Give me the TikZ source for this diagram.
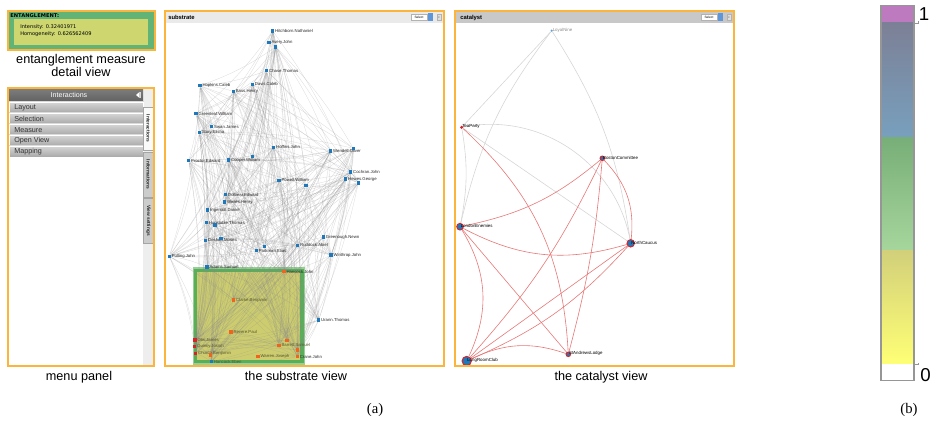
\documentclass[tikz,border=0pt]{standalone}
\usepackage{fontspec}
\setmainfont{Liberation Sans}
\newfontfamily\capserif{Liberation Serif}
\newfontfamily\dvsans{DejaVu Sans}
\definecolor{frameorange}{RGB}{251,181,60}
\definecolor{nodeblue}{RGB}{30,120,185}
\definecolor{nodeorange}{RGB}{240,100,30}
\definecolor{nodered}{RGB}{215,35,40}
\definecolor{catred}{RGB}{232,118,118}
\definecolor{catgrey}{RGB}{214,214,214}
\definecolor{entgreen}{RGB}{98,180,118}
\definecolor{entyellow}{RGB}{206,214,112}
\definecolor{selfill}{RGB}{205,205,112}
\definecolor{selgreen}{RGB}{88,175,88}
\definecolor{selhalo}{RGB}{150,208,150}
\definecolor{inlbl}{RGB}{85,85,45}
\definecolor{sidegrey}{RGB}{238,238,238}
\definecolor{headtop}{RGB}{125,125,125}
\definecolor{headbot}{RGB}{98,98,98}
\definecolor{itemtop}{RGB}{214,214,214}
\definecolor{itembot}{RGB}{168,168,168}
\definecolor{tabdraw}{RGB}{165,165,165}
\definecolor{tabon}{RGB}{250,250,250}
\definecolor{taboff}{RGB}{204,204,204}
\definecolor{subbar}{RGB}{234,234,234}
\definecolor{catbar}{RGB}{200,200,200}
\definecolor{selblue}{RGB}{95,150,215}
\definecolor{barmag}{RGB}{190,122,190}
\definecolor{barb1}{RGB}{124,128,150}
\definecolor{barb2}{RGB}{120,160,190}
\definecolor{barg1}{RGB}{120,174,120}
\definecolor{barg2}{RGB}{166,214,156}
\definecolor{bary1}{RGB}{210,208,122}
\definecolor{bary2}{RGB}{255,255,118}
\definecolor{bargrey}{RGB}{150,150,150}
\pgfdeclarelayer{selbox}
\pgfdeclarelayer{edgelayer}
\pgfsetlayers{selbox,edgelayer,main}
\begin{document}
\begin{tikzpicture}[x=0.75pt,y=-0.75pt,
  frame/.style={draw=frameorange,line width=1.1pt},
  sn/.style={rectangle,inner sep=0,minimum size=2.4pt,fill=nodeblue},
  so/.style={sn,fill=nodeorange},
  sr/.style={sn,fill=nodered},
  sl/.style={font=\fontsize{3.2}{3.6}\selectfont,inner sep=0.3pt,text=black!85},
  slin/.style={sl,text=inlbl},
  sedge/.style={draw=black!45,draw opacity=0.3,line width=0.25pt},
  cn/.style={circle,inner sep=0,fill=nodeblue,draw=nodered,line width=0.7pt},
  cl/.style={font=\fontsize{3.3}{3.8}\selectfont,inner sep=0,anchor=west},
  credge/.style={draw=catred,line width=0.45pt},
  cgedge/.style={draw=catgrey,line width=0.45pt},
  caption/.style={font=\fontsize{9.5}{11}\selectfont,anchor=base,inner sep=0},
  menuitem/.style={top color=itemtop,bottom color=itembot,draw=white,line width=0.3pt},
  mtext/.style={font=\fontsize{5.4}{6}\selectfont,text=black!80,anchor=west,inner sep=0},
  tabtext/.style={font=\bfseries\fontsize{3.6}{4}\selectfont,rotate=-90,inner sep=0,text=black!85},
  tiny/.style={font=\fontsize{2.4}{2.8}\selectfont,inner sep=0}
]
\useasboundingbox (0,0) rectangle (930,423);

% ---------------- entanglement measure detail view
\draw[frame,fill=entgreen] (8,11) rectangle (155,50);
\fill[entyellow] (14,19) rectangle (148,45.5);
\node[font=\dvsans\bfseries\fontsize{3.9}{4.4}\selectfont,anchor=base west,inner sep=0] (enttitle) at (10,18) {ENTANGLEMENT:};
\node[font=\dvsans\fontsize{3.8}{4.4}\selectfont,anchor=base west,inner sep=0] (entint) at (20,28.5) {Intensity: 0.32401971};
\node[font=\dvsans\fontsize{3.8}{4.4}\selectfont,anchor=base west,inner sep=0] (enthom) at (20,36) {Homogeneity: 0.626562409};
\node[caption] (cap1a) at (81,63.5) {entanglement measure};
\node[caption] (cap1b) at (81,76.5) {detail view};

% ---------------- menu panel
\fill[white] (8,88) rectangle (154,366);
\fill[sidegrey] (143,88) rectangle (154,366);
\shade[top color=headtop,bottom color=headbot] (9,88.5) rectangle (143,101.5);
\node[font=\fontsize{5.3}{6}\selectfont,text=white,inner sep=0] (mhead) at (69,95) {Interactions};
\fill[white] (139.5,92) -- (136,95) -- (139.5,98) -- cycle;
\fill[white!85!black] (140.3,92) rectangle (141,98);
\foreach \k/\t in {0/Layout,1/Selection,2/Measure,3/Open View,4/Mapping}{
  \shade[menuitem] (9,102+11*\k) rectangle (143,113+11*\k);
  \node[mtext] (mi\k) at (14,107.7+11*\k) {\t};
}
\draw[tabdraw,fill=tabon,line width=0.4pt] (143.3,107) rectangle (153.3,150);
\draw[tabdraw,fill=taboff,line width=0.4pt] (143.3,152) rectangle (153.3,197);
\draw[tabdraw,fill=taboff,line width=0.4pt] (143.3,198) rectangle (153.3,243);
\node[tabtext] (tab1) at (148.3,128.5) {Interactions};
\node[tabtext] (tab2) at (148.3,174.5) {Informations};
\node[tabtext] (tab3) at (148.3,220.5) {View settings};
\draw[frame] (8,88) rectangle (154,366);
\node[caption] (cap2) at (79,380) {menu panel};

% ---------------- substrate view
\fill[subbar] (165,11) rectangle (444,23);
\node[font=\bfseries\fontsize{4.4}{5}\selectfont,anchor=west,inner sep=0] (subtitle) at (168,17.5) {substrate};
\draw[black!30,fill=white,line width=0.2pt] (411,14.5) rectangle (427,20);
\node[tiny] (subsel) at (419,17.3) {Select};
\fill[selblue] (428,13.5) rectangle (433,21);
\draw[black!30,fill=black!12,line width=0.2pt] (437,14.5) rectangle (441,20);
\node[tiny,text=black!60] (subx) at (439,17.2) {x};

\node[sn,label={[sl]east:Hitchborn.Nathaniel}] (s1) at (272.7,31) {};
\node[sn,label={[sl]east:Avery.John}] (s2) at (269,42.7) {};
\node[sn] (s3) at (275.7,47) {};
\node[sn,label={[sl]east:Chase.Thomas}] (s4) at (266.7,70.7) {};
\node[sn,label={[sl]east:Hopkins.Caleb}] (s5) at (200,85.7) {};
\node[sn,label={[sl]east:Davis.Caleb}] (s6) at (252.3,84.3) {};
\node[sn,label={[sl]east:Bass.Henry}] (s7) at (233.3,91.3) {};
\node[sn,label={[sl]east:Greenleaf.William}] (s8) at (196,113.7) {};
\node[sn,label={[sl]east:Swan.James}] (s9) at (211.7,126.7) {};
\node[sn,label={[sl]east:Story.Elisha}] (s10) at (199.3,132.7) {};
\node[sn,label={[sl]east:Hoffins.John}] (s11) at (273.7,147.3) {};
\node[sn,label={[sl]east:Wendell.Oliver}] (s12) at (330.7,151) {};
\node[sn] (s13) at (353.3,148.3) {};
\node[sn,label={[sl]east:Proctor.Edward}] (s14) at (188.7,160.7) {};
\node[sn,label={[sl]east:Cooper.William}] (s15) at (228.7,160) {};
\node[sn] (s16) at (252.3,156.7) {};
\node[sn,label={[sl]east:Cochran.John}] (s17) at (350.7,172) {};
\node[sn,label={[sl]east:Hewes.George}] (s18) at (345.7,179) {};
\node[sn] (s19) at (358.3,183) {};
\node[sn,label={[sl]east:Powell.William}] (s20) at (279,180.3) {};
\node[sn] (s21) at (306,185.7) {};
\node[sn,label={[sl]east:Dolbear.Edward}] (s22) at (225.7,194.7) {};
\node[sn,label={[sl]east:Welles.Henry}] (s23) at (224.7,202) {};
\node[sn,label={[sl]east:Ingersoll.Daniel}] (s24) at (207.7,210) {};
\node[sn,label={[sl]east:Hunstable.Thomas}] (s25) at (206.3,222.7) {};
\node[sn] (s26) at (215,225) {};
\node[sn,label={[sl]east:Deshon.Moses}] (s27) at (205.7,240.3) {};
\node[sn] (s28) at (221,238.3) {};
\node[sn,label={[sl]east:Parkman.Elias}] (s29) at (256.3,250.7) {};
\node[sn] (s30) at (264.7,246.7) {};
\node[sn,label={[sl]east:Ruddock.Abiel}] (s31) at (297.7,245.3) {};
\node[sn,label={[sl]east:Greenough.Newn}] (s32) at (323.3,237) {};
\node[sn,label={[sl]east:Pulling.John}] (s33) at (169.3,256.3) {};
\node[sn,label={[sl]east:Winthrop.John}] (s34) at (331,255) {};
\node[sn,label={[sl]east:Adams.Samuel}] (s35) at (207,267) {};
\node[so,label={[sl]east:Hancock.John}] (s36) at (284,271.7) {};
\node[so,label={[slin]east:Clarke.Benjamin}] (s37) at (233.7,300) {};
\node[sn,label={[sl]east:Urann.Thomas}] (s38) at (318.7,320) {};
\node[so,label={[slin]east:Revere.Paul}] (s39) at (231,332) {};
\node[sr,label={[slin]east:Otis.James}] (s40) at (195,340) {};
\node[sr,label={[slin]east:Quincy.Josiah}] (s41) at (194.7,346.7) {};
\node[sr,label={[slin]east:Church.Benjamin}] (s42) at (195.7,353.3) {};
\node[so] (s43) at (210.7,355) {};
\node[so,label={[slin]east:Barrett.Samuel}] (s44) at (279,345.3) {};
\node[so] (s45) at (287,340.7) {};
\node[so,label={[slin]east:Warren.Joseph}] (s46) at (258,356.7) {};
\node[so,label={[sl]east:Crane.John}] (s47) at (297.3,356.7) {};
\node[so] (s48) at (297.7,350) {};
\node[sn,label={[slin]east:Hancock.Eben}] (s49) at (211.3,361.7) {};

\begin{pgfonlayer}{edgelayer}
\foreach \i in {1,...,49}{
  \foreach \j in {1,...,49}{
    \pgfmathtruncatemacro\ok{and(\j>\i,mod(\i*\j+3*\i+5*\j,7)<3)}
    \ifnum\ok=1 \draw[sedge] (s\i) to[bend left=7] (s\j);\fi
  }
}
\end{pgfonlayer}
\begin{pgfonlayer}{selbox}
\draw[selhalo,line width=4.5pt] (195.5,270.5) rectangle (302,361.5);
\draw[selgreen,fill=selfill,line width=2.4pt] (195.5,270.5) rectangle (302,361.5);
\end{pgfonlayer}
\draw[frame] (165,11) rectangle (444,366);
\node[caption] (cap3) at (296,380) {the substrate view};

% ---------------- catalyst view
\fill[catbar] (455,11) rectangle (734,23);
\node[font=\bfseries\fontsize{4.4}{5}\selectfont,anchor=west,inner sep=0] (cattitle) at (460,17.5) {catalyst};
\draw[black!30,fill=white,line width=0.2pt] (701,14.5) rectangle (717,20);
\node[tiny] (catsel) at (709,17.3) {Select};
\fill[selblue] (718,13.5) rectangle (723,21);
\draw[black!30,fill=black!12,line width=0.2pt] (727,14.5) rectangle (731,20);
\node[tiny,text=black!60] (catx) at (729,17.2) {x};

\node[circle,inner sep=0,minimum size=1.8pt,fill=nodeblue!70] (c1) at (551.7,30.7) {};
\node[circle,inner sep=0,minimum size=2.6pt,fill=nodered] (c2) at (461.7,127.3) {};
\node[cn,minimum size=3.4pt] (c3) at (602.3,158.3) {};
\node[cn,minimum size=5pt] (c4) at (460,226.7) {};
\node[cn,minimum size=5.6pt] (c5) at (630.7,243.3) {};
\node[cn,minimum size=3.4pt] (c6) at (568.3,354.3) {};
\node[cn,minimum size=7pt] (c7) at (466.7,361) {};

\begin{pgfonlayer}{edgelayer}
\draw[cgedge] (c1) -- (c2);
\draw[cgedge] (c1) to[bend right=12] (c4);
\draw[cgedge] (c1) to[bend left=12] (c5);
\draw[cgedge] (c2) -- (c5);
\draw[cgedge] (c2) to[bend left=45] (c5);
\draw[cgedge] (c2) to[bend left=10] (c4);
\draw[credge] (c2) to[bend left=22] (c6);
\draw[credge] (c3) to[bend left=14] (c4);
\draw[credge] (c3) to[bend left=25] (c5);
\draw[credge] (c3) to[bend left=8] (c7);
\draw[credge] (c3) to[bend left=5] (c6);
\draw[credge] (c4) to[bend right=22] (c5);
\draw[credge] (c4) -- (c6);
\draw[credge] (c4) to[bend left=28] (c7);
\draw[credge] (c5) -- (c7);
\draw[credge] (c5) to[bend left=12] (c7);
\draw[credge] (c6) to[bend right=22] (c7);
\end{pgfonlayer}

\node[cl,text=black!45] (c1l) at (552.5,30.2) {LoyalNine};
\node[cl] (c2l) at (462,126.5) {TeaParty};
\node[cl] (c3l) at (602.8,157.8) {BostonCommittee};
\node[cl] (c4l) at (460.5,225.9) {LondonEnemies};
\node[cl] (c5l) at (631,242.6) {NorthCaucus};
\node[cl] (c6l) at (568.8,353.6) {StAndrewsLodge};
\node[cl] (c7l) at (467,360.4) {LongRoomClub};
\draw[frame] (455,11) rectangle (734,366);
\node[caption] (cap4) at (601,380) {the catalyst view};

% ---------------- (a)
\node[font=\capserif\fontsize{11}{13}\selectfont,anchor=base,inner sep=0] (lbla) at (375,413) {(a)};

% ---------------- colour bar (b)
\fill[barmag] (881,6) rectangle (914,23);
\shade[top color=barb1,bottom color=barb2] (881,23) rectangle (914,138);
\shade[top color=barg1,bottom color=barg2] (881,138) rectangle (914,251);
\shade[top color=bary1,bottom color=bary2] (881,251) rectangle (914,364);
\fill[white] (881,364) rectangle (914,380);
\draw[bargrey,line width=1.4pt] (881,5.5) rectangle (914,380.5);
\draw[bargrey,line width=0.7pt] (914,23) -- (918,23) -- (918,21);
\draw[bargrey,line width=0.7pt] (914,364.5) -- (918,364.5) -- (918,362.5);
\node[font=\fontsize{14}{16}\selectfont,anchor=base,inner sep=0] (tick1) at (924,20.7) {1};
\node[font=\fontsize{14}{16}\selectfont,anchor=base,inner sep=0] (tick0) at (925.5,381) {0};
\node[font=\capserif\fontsize{11}{13}\selectfont,anchor=base,inner sep=0] (lblb) at (909,413) {(b)};
\end{tikzpicture}
\end{document}
